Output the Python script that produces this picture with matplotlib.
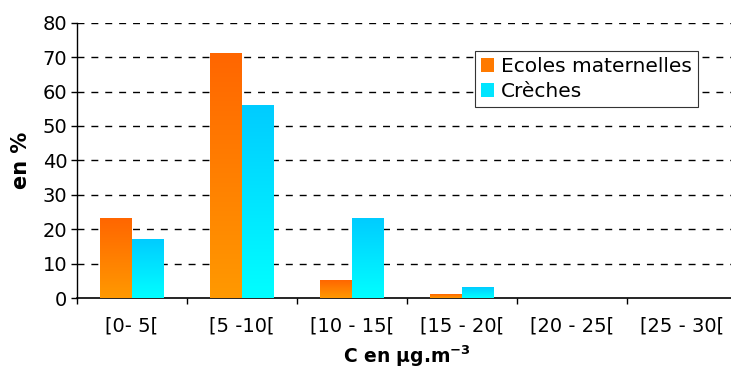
import numpy as np
import matplotlib
matplotlib.use("Agg")
import matplotlib.pyplot as plt
from matplotlib.colors import LinearSegmentedColormap
from matplotlib.patches import Patch

# distribution of concentrations per class
classes = ["[0- 5[", "[5 -10[", "[10 - 15[", "[15 - 20[", "[20 - 25[", "[25 - 30["]
ecoles = [23, 71, 5, 1, 0, 0]
creches = [17, 56, 23, 3, 0, 0]
series_names = ["Ecoles maternelles", "Crèches"]

# (bottom colour, top colour) for the vertical gradient of each series
orange = ("#FF9900", "#FF6600")
cyan = ("#00FFFF", "#00CCFF")

plt.rcParams["font.family"] = ["DejaVu Sans"]

fig = plt.figure(figsize=(7.31, 3.69), dpi=100)
ax = fig.add_axes([77 / 731, 71 / 369, 660 / 731, 275.3 / 369])

grad = np.linspace(0, 1, 256).reshape(-1, 1)
width = 0.29


def gradient_bars(xs, values, colors):
    cmap = LinearSegmentedColormap.from_list("g", list(colors))
    for x, v in zip(xs, values):
        if v <= 0:
            continue
        ax.imshow(grad, cmap=cmap, origin="lower", aspect="auto",
                  extent=(x - width / 2, x + width / 2, 0, v),
                  interpolation="bilinear", zorder=3)


idx = np.arange(len(classes))
gradient_bars(idx - width / 2, ecoles, orange)
gradient_bars(idx + width / 2, creches, cyan)

ax.set_xlim(-0.5, len(classes) - 0.5)
ax.set_ylim(0, 80)

# y axis
ax.set_yticks(np.arange(0, 81, 10))
ax.tick_params(axis="y", direction="out", length=4, width=1, labelsize=14, pad=3)
for y in range(10, 81, 10):
    ax.axhline(y, color="black", lw=1, ls=(0, (5, 5)), zorder=1)

# x axis: labels at centres, tick marks at class boundaries
ax.set_xticks(idx)
ax.set_xticklabels(classes)
ax.set_xticks(np.arange(-0.5, len(classes), 1), minor=True)
ax.tick_params(axis="x", which="major", length=0, labelsize=14, pad=13)
ax.tick_params(axis="x", which="minor", direction="out", length=4, width=1)

for s in ("top", "right"):
    ax.spines[s].set_visible(False)
ax.spines["left"].set_linewidth(1)
ax.spines["bottom"].set_linewidth(1.2)

ax.set_ylabel("en %", fontsize=15, fontweight="bold", labelpad=8)
ax.set_xlabel(r"C en µg.m$^{\mathbf{-3}}$", fontsize=13.5, fontweight="bold", labelpad=6)

handles = [Patch(facecolor="#FF7A00", edgecolor="none"),
           Patch(facecolor="#00E5FF", edgecolor="none")]
leg = ax.legend(handles, series_names, loc="upper left",
                bbox_to_anchor=(0.603, 0.897), borderaxespad=0,
                fancybox=False, framealpha=1, edgecolor="#333333",
                fontsize=14.5, handlelength=0.65, handleheight=0.65,
                handletextpad=0.35, labelspacing=0.3, borderpad=0.3)
leg.get_frame().set_linewidth(0.8)

fig.savefig("out.png", dpi=100)
